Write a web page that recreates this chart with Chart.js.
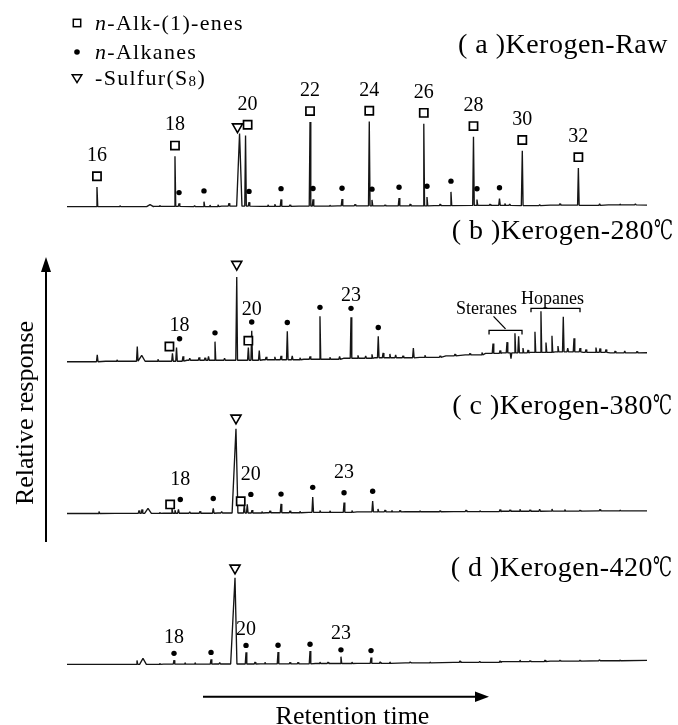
<!DOCTYPE html>
<html>
<head>
<meta charset="utf-8">
<title>Kerogen pyrolysate chromatograms</title>
<script src="https://cdn.jsdelivr.net/npm/chart.js@4/dist/chart.umd.min.js"></script>
<style>
  html, body { margin: 0; padding: 0; background: #fff; }
  #wrap { position: relative; width: 678px; height: 725px; }
</style>
</head>
<body>
<div id="wrap"><canvas id="chartGC" width="678" height="725"></canvas></div>
<script>
// retention time in min, response in arbitrary units above the baseline

// (a) Kerogen-Raw
const aAlkeneCarbons = [16, 18, 20, 22, 24, 26, 28, 30, 32];
const aAlkeneTimes = [3.10, 11.17, 18.47, 25.14, 31.27, 36.91, 42.05, 47.10, 52.90];
const aAlkeneHeights = [20, 51, 72, 86, 86, 84, 70, 56, 38];
const aAlkaneCarbons = [18, 19, 20, 21, 22, 23, 24, 25, 26, 27, 28, 29];
const aAlkaneTimes = [11.59, 14.17, 18.83, 22.14, 25.45, 28.45, 31.55, 34.35, 37.24, 39.72, 42.41, 44.74];
const aAlkaneHeights = [3, 5, 4, 7, 7, 7, 6, 8, 9, 14, 6, 7];
const aSulfurTime = 17.85;
const aSulfurHeight = 74;
const aOtherTimes = [5.48, 9.60, 13.20, 14.79, 15.62, 16.76, 20.79, 21.50, 23.07, 27.20, 29.80,
  32.90, 35.50, 38.60, 43.76, 45.30, 45.80, 48.90, 51.00, 55.10, 57.20, 58.80];
const aOtherHeights = [1, 1, 1, 1.5, 2, 3, 1.5, 2, 1.5, 1, 1.5, 1, 2, 1.5, 1.5, 2, 1.5, 1, 1.5, 1.5, 1, 1];
const aBroadTimes = [8.59];
const aBroadHeights = [2];
const aBaseTimes = [0, 5, 9, 13, 16, 20, 24, 28, 33, 38, 42, 47, 50, 53, 56, 60];
const aBaseLevels = [0, 0, 0.3, 0, 0.5, 0.3, 0.5, 0.8, 0.7, 1.0, 1.2, 1.0, 1.5, 1.3, 1.7, 1.5];
const aLabelledCarbons = [16, 18, 20, 22, 24, 26, 28, 30, 32];

// (b) Kerogen-280
const bAlkeneCarbons = [18, 20];
const bAlkeneTimes = [10.91, 18.76];
const bAlkeneHeights = [8, 13];
const bAlkaneCarbons = [18, 19, 20, 21, 22, 23, 24];
const bAlkaneTimes = [11.33, 15.31, 19.11, 22.79, 26.17, 29.38, 32.20];
const bAlkaneHeights = [14, 19, 30, 29, 44, 42, 22];
const bSulfurTime = 17.56;
const bSulfurHeight = 85;
const bOtherTimes = [3.13, 5.17, 7.27, 9.41, 12.00, 12.70, 13.66, 14.28, 14.64, 16.30,
  19.89, 20.60, 21.50, 22.14, 23.30, 24.10, 25.14, 27.20, 28.20, 30.10,
  30.90, 31.55, 32.70, 33.40, 34.00, 34.76, 35.83, 37.03, 38.60, 40.14,
  41.69, 42.93, 53.69, 54.72, 55.14, 55.76, 56.70, 57.70, 58.97];
const bOtherHeights = [7, 1.5, 15, 2, 5, 2, 3, 2.5, 4, 2,
  10, 3, 3, 4, 4, 2, 3, 2, 3, 3,
  2.5, 4, 5, 4, 3, 2, 10, 2, 1.5, 2,
  1.5, 2.5, 3, 5, 4, 3, 2, 2, 1.5];
const bSteraneTimes = [44.07, 44.80, 45.52, 45.93, 46.34, 46.72, 47.17, 47.69];
const bSteraneHeights = [10, 3, 11, -6, 20, 17, 5, 3];
const bHopaneTimes = [48.41, 49.03, 49.55, 50.17, 50.79, 51.34, 51.80, 52.45, 53.07];
const bHopaneHeights = [21, 42, 10, 17, 6, 36, 4, 14, 4];
const bBroadTimes = [7.73];
const bBroadHeights = [6];
const bBaseTimes = [0, 4, 9, 12.4, 16, 20.3, 24.5, 28.6, 31.8, 36.5, 39.2, 41.2, 43.3, 45.0, 47.9, 50.5, 53.4, 56.2, 58.4, 60];
const bBaseLevels = [0, 0.5, 0.5, 1.5, 1.5, 2, 2.5, 3.5, 4, 4.5, 6, 7, 8.5, 9, 9.5, 10, 9.5, 9, 9, 9.2];
const bLabelledCarbons = [18, 20, 23];
const bRegionNames = ['Steranes', 'Hopanes'];
const bRegionStarts = [43.66, 48.0];
const bRegionEnds = [47.07, 53.07];

// (c) Kerogen-380
const cAlkeneCarbons = [18, 20];
const cAlkeneTimes = [10.86, 18.34];
const cAlkeneHeights = [5, 8];
const cAlkaneCarbons = [18, 19, 20, 21, 22, 23, 24];
const cAlkaneTimes = [11.53, 15.13, 18.65, 22.14, 25.42, 28.66, 31.62];
const cAlkaneHeights = [4, 5, 9, 9, 15.5, 10, 11];
const cSulfurTime = 17.48;
const cSulfurHeight = 86;
const cOtherTimes = [3.31, 7.45, 7.76, 9.60, 11.17, 12.70, 13.76, 16.00, 19.14, 20.17, 21.00, 23.07,
  24.10, 26.17, 27.20, 29.48, 32.17, 32.90, 33.60, 34.45, 36.50, 38.60, 41.28, 42.72,
  44.80, 45.83, 46.86, 47.90, 48.90, 50.17, 51.50, 53.07, 55.14, 57.20];
const cOtherHeights = [2, 3, 4, 1, 3, 1.5, 2, 1.5, 3, 1.5, 2, 2,
  1.5, 2, 1.5, 2, 3, 2, 1.5, 1.5, 1, 1, 1.5, 1,
  2, 1.5, 2, 1.5, 2, 2, 1.5, 1, 1.5, 1];
const cBroadTimes = [8.38];
const cBroadHeights = [5];
const cBaseTimes = [0, 5, 10, 15.6, 20.6, 25, 30, 35, 40, 45, 50, 55, 60];
const cBaseLevels = [0, 0.2, 0.3, 0.5, 0.8, 1.2, 1.7, 1.8, 2, 2.3, 2.5, 2.7, 2.7];
const cLabelledCarbons = [18, 20, 23];

// (d) Kerogen-420
const dAlkeneCarbons = [];
const dAlkeneTimes = [];
const dAlkeneHeights = [];
const dAlkaneCarbons = [18, 19, 20, 21, 22, 23, 24];
const dAlkaneTimes = [11.07, 14.90, 18.52, 21.83, 25.14, 28.34, 31.45];
const dAlkaneHeights = [4, 5, 12, 12, 13, 7, 6];
const dSulfurTime = 17.38;
const dSulfurHeight = 88;
const dOtherTimes = [7.24, 9.60, 12.20, 13.24, 15.80, 19.45, 20.48, 23.07, 23.90, 26.17, 27.00, 29.48, 32.40,
  33.40, 35.50, 37.55, 40.66, 42.70, 44.80, 46.86, 47.90, 49.45, 51.00, 53.07, 55.10, 57.20];
const dOtherHeights = [4, 1, 1.5, 1.5, 1.5, 2, 1.5, 1.5, 1.5, 1.5, 1.5, 1.5, 1.5,
  1.5, 1, 1, 1.5, 1, 1.5, 1.5, 1, 1.5, 1, 1, 1, 1];
const dBroadTimes = [7.86];
const dBroadHeights = [6];
const dBaseTimes = [0, 5, 10, 15.3, 20, 25.7, 30, 35, 40, 45, 50, 55, 60];
const dBaseLevels = [0, 0, 0.2, 0.3, 0.5, 0.8, 1, 1.5, 2, 2.8, 3.2, 3.6, 4];
const dLabelledCarbons = [18, 20, 23];

// ---- look ----
const CANVAS_H = 725;
const INK = '#000';
const SERIF = '"Liberation Serif", "Times New Roman", Times, serif';
const UNIT_FONT = '"DejaVu Serif", "DejaVu Sans", serif';
const NARROW = [0.08, 0.08];
const BROAD = [0.35, 0.35];
const MARK_SEP = 1.05;
const REGION_GAP = 3;

const panelStyle = {
  a: { baseline: 203.3, squareGap: 11, dotGap: 11, triGap: 7, labelGap: 21, labelOn: 'sq', sulfurWidth: [0.30, 0.25], titleY: 43, titleRight: 668 },
  b: { baseline: 361.7, squareGap: 7, dotGap: 9, triGap: 13, labelGap: 13, labelOn: 'dot', sulfurWidth: [0.10, 0.08], titleY: 229, titleRight: 673 },
  c: { baseline: 516.7, squareGap: 4, dotGap: 10, triGap: 11, labelGap: 20, labelOn: 'dot', sulfurWidth: [0.40, 0.20], titleY: 404, titleRight: 672 },
  d: { baseline: 670.7, squareGap: 7, dotGap: 7, triGap: 10, labelGap: 16, labelOn: 'dot', sulfurWidth: [0.45, 0.20], titleY: 566, titleRight: 672 }
};
// label nudges for the compound-group brackets (px)
const regionStyle = [
  { shift: -19, lift: 21, leader: true },
  { shift: -3, lift: 9, leader: false }
];

function footLevel(bt, bl, t) {
  let lv = bl[0];
  for (let i = 0; i < bt.length; i++) if (bt[i] <= t) lv = bl[i];
  return lv;
}

function buildTrace(d, style) {
  const peaks = [];
  const add = (ts, hs, w) => ts.forEach((t, i) => peaks.push({ t, h: hs[i], w }));
  add(d.alkeneT, d.alkeneH, NARROW);
  add(d.alkaneT, d.alkaneH, NARROW);
  add(d.otherT, d.otherH, NARROW);
  add(d.broadT, d.broadH, BROAD);
  add([d.sulfurT], [d.sulfurH], style.sulfurWidth);
  const pts = [];
  d.baseT.forEach((t, i) => {
    if (!peaks.some(k => t >= k.t - k.w[0] && t <= k.t + k.w[1])) pts.push({ x: t, y: d.baseL[i] });
  });
  peaks.forEach(k => {
    const f = footLevel(d.baseT, d.baseL, k.t);
    pts.push({ x: k.t - k.w[0], y: f }, { x: k.t, y: f + k.h }, { x: k.t + k.w[1], y: f });
  });
  return pts.sort((u, v) => u.x - v.x);
}

function separate(marks) {
  marks.sort((m, n) => m.x - n.x);
  for (let i = 0; i < marks.length; i++) {
    for (let j = i + 1; j < marks.length; j++) {
      const m = marks[i], n = marks[j];
      if (Math.abs(m.y - n.y) < 12 && Math.abs(n.x - m.x) < MARK_SEP) {
        const mid = (m.x + n.x) / 2;
        m.x = mid - MARK_SEP / 2;
        n.x = mid + MARK_SEP / 2;
      }
    }
  }
}

function makePanel(axis, title, d, style) {
  const trace = buildTrace(d, style);
  const apex = (t, h) => footLevel(d.baseT, d.baseL, t) + h;
  const marks = [];
  d.alkeneT.forEach((t, i) => marks.push({ kind: 'sq', c: d.alkeneC[i], x: t, y: apex(t, d.alkeneH[i]) + style.squareGap }));
  d.alkaneT.forEach((t, i) => marks.push({ kind: 'dot', c: d.alkaneC[i], x: t, y: apex(t, d.alkaneH[i]) + style.dotGap }));
  marks.push({ kind: 'tri', x: d.sulfurT, y: apex(d.sulfurT, d.sulfurH) + style.triGap });
  separate(marks);
  const labels = d.labelled.map(c => {
    const m = marks.find(k => k.kind === style.labelOn && k.c === c);
    return { text: String(c), x: m.x, y: m.y + style.labelGap };
  });
  const regions = (d.regionN || []).map((name, i) => {
    const inWin = trace.filter(pt => pt.x >= d.regionS[i] && pt.x <= d.regionE[i]);
    const top = Math.max(...inWin.map(pt => pt.y));
    return { name, start: d.regionS[i], end: d.regionE[i], level: top + REGION_GAP, look: regionStyle[i] };
  });
  const pick = kind => marks.filter(k => k.kind === kind).map(k => ({ x: k.x, y: k.y }));
  return { axis, title, style, trace, labels, regions, squares: pick('sq'), dots: pick('dot'), tris: pick('tri') };
}

const panels = [
  makePanel('yA', '( a )Kerogen-Raw', {
    baseT: aBaseTimes, baseL: aBaseLevels,
    alkeneC: aAlkeneCarbons, alkeneT: aAlkeneTimes, alkeneH: aAlkeneHeights,
    alkaneC: aAlkaneCarbons, alkaneT: aAlkaneTimes, alkaneH: aAlkaneHeights,
    sulfurT: aSulfurTime, sulfurH: aSulfurHeight,
    otherT: aOtherTimes, otherH: aOtherHeights,
    broadT: aBroadTimes, broadH: aBroadHeights,
    labelled: aLabelledCarbons
  }, panelStyle.a),
  makePanel('yB', '( b )Kerogen-280℃', {
    baseT: bBaseTimes, baseL: bBaseLevels,
    alkeneC: bAlkeneCarbons, alkeneT: bAlkeneTimes, alkeneH: bAlkeneHeights,
    alkaneC: bAlkaneCarbons, alkaneT: bAlkaneTimes, alkaneH: bAlkaneHeights,
    sulfurT: bSulfurTime, sulfurH: bSulfurHeight,
    otherT: bOtherTimes.concat(bSteraneTimes, bHopaneTimes),
    otherH: bOtherHeights.concat(bSteraneHeights, bHopaneHeights),
    broadT: bBroadTimes, broadH: bBroadHeights,
    labelled: bLabelledCarbons,
    regionN: bRegionNames, regionS: bRegionStarts, regionE: bRegionEnds
  }, panelStyle.b),
  makePanel('yC', '( c )Kerogen-380℃', {
    baseT: cBaseTimes, baseL: cBaseLevels,
    alkeneC: cAlkeneCarbons, alkeneT: cAlkeneTimes, alkeneH: cAlkeneHeights,
    alkaneC: cAlkaneCarbons, alkaneT: cAlkaneTimes, alkaneH: cAlkaneHeights,
    sulfurT: cSulfurTime, sulfurH: cSulfurHeight,
    otherT: cOtherTimes, otherH: cOtherHeights,
    broadT: cBroadTimes, broadH: cBroadHeights,
    labelled: cLabelledCarbons
  }, panelStyle.c),
  makePanel('yD', '( d )Kerogen-420℃', {
    baseT: dBaseTimes, baseL: dBaseLevels,
    alkeneC: dAlkeneCarbons, alkeneT: dAlkeneTimes, alkeneH: dAlkeneHeights,
    alkaneC: dAlkaneCarbons, alkaneT: dAlkaneTimes, alkaneH: dAlkaneHeights,
    sulfurT: dSulfurTime, sulfurH: dSulfurHeight,
    otherT: dOtherTimes, otherH: dOtherHeights,
    broadT: dBroadTimes, broadH: dBroadHeights,
    labelled: dLabelledCarbons
  }, panelStyle.d)
];

const datasets = [];
const scales = { x: { type: 'linear', min: 0, max: 60, display: false } };
panels.forEach(p => {
  scales[p.axis] = { type: 'linear', display: false, min: p.style.baseline - CANVAS_H, max: p.style.baseline };
  datasets.push({
    label: p.title, data: p.trace, yAxisID: p.axis, order: 2,
    borderColor: '#151515', borderWidth: 1.35, borderJoinStyle: 'bevel', pointRadius: 0, tension: 0, fill: false
  });
  datasets.push({
    label: 'n-Alk-(1)-enes', data: p.squares, yAxisID: p.axis, order: 1, showLine: false,
    pointStyle: 'rect', pointRadius: 5.8, pointBorderWidth: 1.7, pointBorderColor: INK, pointBackgroundColor: '#fff'
  });
  datasets.push({
    label: 'n-Alkanes', data: p.dots, yAxisID: p.axis, order: 1, showLine: false,
    pointStyle: 'circle', pointRadius: 2.7, pointBorderWidth: 0, pointBackgroundColor: INK
  });
  datasets.push({
    label: '-Sulfur(S8)', data: p.tris, yAxisID: p.axis, order: 1, showLine: false,
    pointStyle: 'triangle', pointRotation: 180, pointRadius: 5.8, pointBorderWidth: 1.6,
    pointBorderColor: INK, pointBackgroundColor: '#fff'
  });
});

const drawLegend = ctx => {
  const rows = [
    { y: 23, kind: 'sq', parts: [['italic', 'n'], ['normal', '-Alk-(1)-enes']] },
    { y: 52, kind: 'dot', parts: [['italic', 'n'], ['normal', '-Alkanes']] },
    { y: 78, kind: 'tri', parts: [['normal', '-Sulfur(S'], ['sub', '8'], ['normal', ')']] }
  ];
  rows.forEach(r => {
    const mx = 77;
    ctx.lineWidth = 1.5;
    ctx.beginPath();
    if (r.kind === 'sq') {
      ctx.strokeRect(mx - 3.7, r.y - 3.7, 7.4, 7.4);
    } else if (r.kind === 'dot') {
      ctx.arc(mx, r.y, 2.8, 0, Math.PI * 2);
      ctx.fill();
    } else {
      ctx.moveTo(mx - 4.8, r.y - 3.2);
      ctx.lineTo(mx + 4.8, r.y - 3.2);
      ctx.lineTo(mx, r.y + 4.6);
      ctx.closePath();
      ctx.stroke();
    }
    let x = 95;
    ctx.textAlign = 'left';
    ctx.textBaseline = 'alphabetic';
    ctx.letterSpacing = '1.3px';
    r.parts.forEach(([style, txt]) => {
      let dy = 0;
      if (style === 'italic') ctx.font = `italic 22px ${SERIF}`;
      else if (style === 'sub') { ctx.font = `15px ${SERIF}`; dy = 1; }
      else ctx.font = `22px ${SERIF}`;
      ctx.fillText(txt, x, r.y + 7 + dy);
      x += ctx.measureText(txt).width;
    });
    ctx.letterSpacing = '0px';
  });
};

// panel title; the degree-Celsius sign is narrowed to the width it has in the figure
const drawTitle = (ctx, text, right, y) => {
  ctx.textBaseline = 'alphabetic';
  ctx.letterSpacing = '0.5px';
  let main = text, unit = '';
  if (text.endsWith('℃')) { main = text.slice(0, -1); unit = '℃'; }
  let edge = right;
  const base = y + 9.5;
  if (unit) {
    ctx.letterSpacing = '0px';
    ctx.font = `27px ${UNIT_FONT}`;
    ctx.textAlign = 'left';
    const w = ctx.measureText(unit).width;
    const sx = Math.min(1, 19 / w);
    ctx.save();
    ctx.translate(right - w * sx, base);
    ctx.scale(sx, 1);
    ctx.fillText(unit, 0, 0);
    ctx.restore();
    edge = right - w * sx;
    ctx.letterSpacing = '0.5px';
  }
  ctx.font = `28px ${SERIF}`;
  ctx.textAlign = 'right';
  ctx.fillText(main, edge, base);
  ctx.letterSpacing = '0px';
};

const gcAnnotations = {
  id: 'gcAnnotations',
  afterDraw(chart) {
    const ctx = chart.ctx;
    const xs = chart.scales.x;
    ctx.save();
    ctx.fillStyle = INK;
    ctx.strokeStyle = INK;

    panels.forEach(p => {
      const ys = chart.scales[p.axis];
      ctx.font = `20px ${SERIF}`;
      ctx.textAlign = 'center';
      ctx.textBaseline = 'middle';
      p.labels.forEach(l => ctx.fillText(l.text, xs.getPixelForValue(l.x), ys.getPixelForValue(l.y)));

      p.regions.forEach(r => {
        const x1 = xs.getPixelForValue(r.start), x2 = xs.getPixelForValue(r.end);
        const yb = ys.getPixelForValue(r.level);
        ctx.lineWidth = 1.3;
        ctx.beginPath();
        ctx.moveTo(x1, yb + 4); ctx.lineTo(x1, yb); ctx.lineTo(x2, yb); ctx.lineTo(x2, yb + 4);
        ctx.stroke();
        const lx = (x1 + x2) / 2 + r.look.shift, ly = yb - r.look.lift;
        ctx.font = `18px ${SERIF}`;
        ctx.textAlign = 'center';
        ctx.textBaseline = 'middle';
        ctx.fillText(r.name, lx, ly);
        if (r.look.leader) {
          ctx.beginPath();
          ctx.moveTo(lx + 7, ly + 7);
          ctx.lineTo((x1 + x2) / 2, yb - 1.5);
          ctx.stroke();
        }
      });

      drawTitle(ctx, p.title, p.style.titleRight, p.style.titleY);
    });

    drawLegend(ctx);

    // axis arrows
    ctx.lineWidth = 2;
    ctx.beginPath();
    ctx.moveTo(46, 542); ctx.lineTo(46, 268);
    ctx.moveTo(203, 696.7); ctx.lineTo(478, 696.7);
    ctx.stroke();
    ctx.beginPath();
    ctx.moveTo(46, 257); ctx.lineTo(41, 272); ctx.lineTo(51, 272); ctx.closePath();
    ctx.fill();
    ctx.beginPath();
    ctx.moveTo(489, 696.7); ctx.lineTo(475, 691.5); ctx.lineTo(475, 702); ctx.closePath();
    ctx.fill();

    ctx.font = `26px ${SERIF}`;
    ctx.textAlign = 'center';
    ctx.textBaseline = 'alphabetic';
    ctx.fillText('Retention time', 352.5, 724);
    ctx.save();
    ctx.translate(33, 413);
    ctx.rotate(-Math.PI / 2);
    ctx.fillText('Relative response', 0, 0);
    ctx.restore();

    ctx.restore();
  }
};

const chartGC = new Chart(document.getElementById('chartGC').getContext('2d'), {
  type: 'line',
  data: { datasets },
  options: {
    responsive: false,
    animation: false,
    events: [],
    layout: { padding: { left: 67, right: 31, top: 0, bottom: 0 } },
    plugins: { legend: { display: false }, tooltip: { enabled: false } },
    scales
  },
  plugins: [gcAnnotations]
});
</script>
</body>
</html>
